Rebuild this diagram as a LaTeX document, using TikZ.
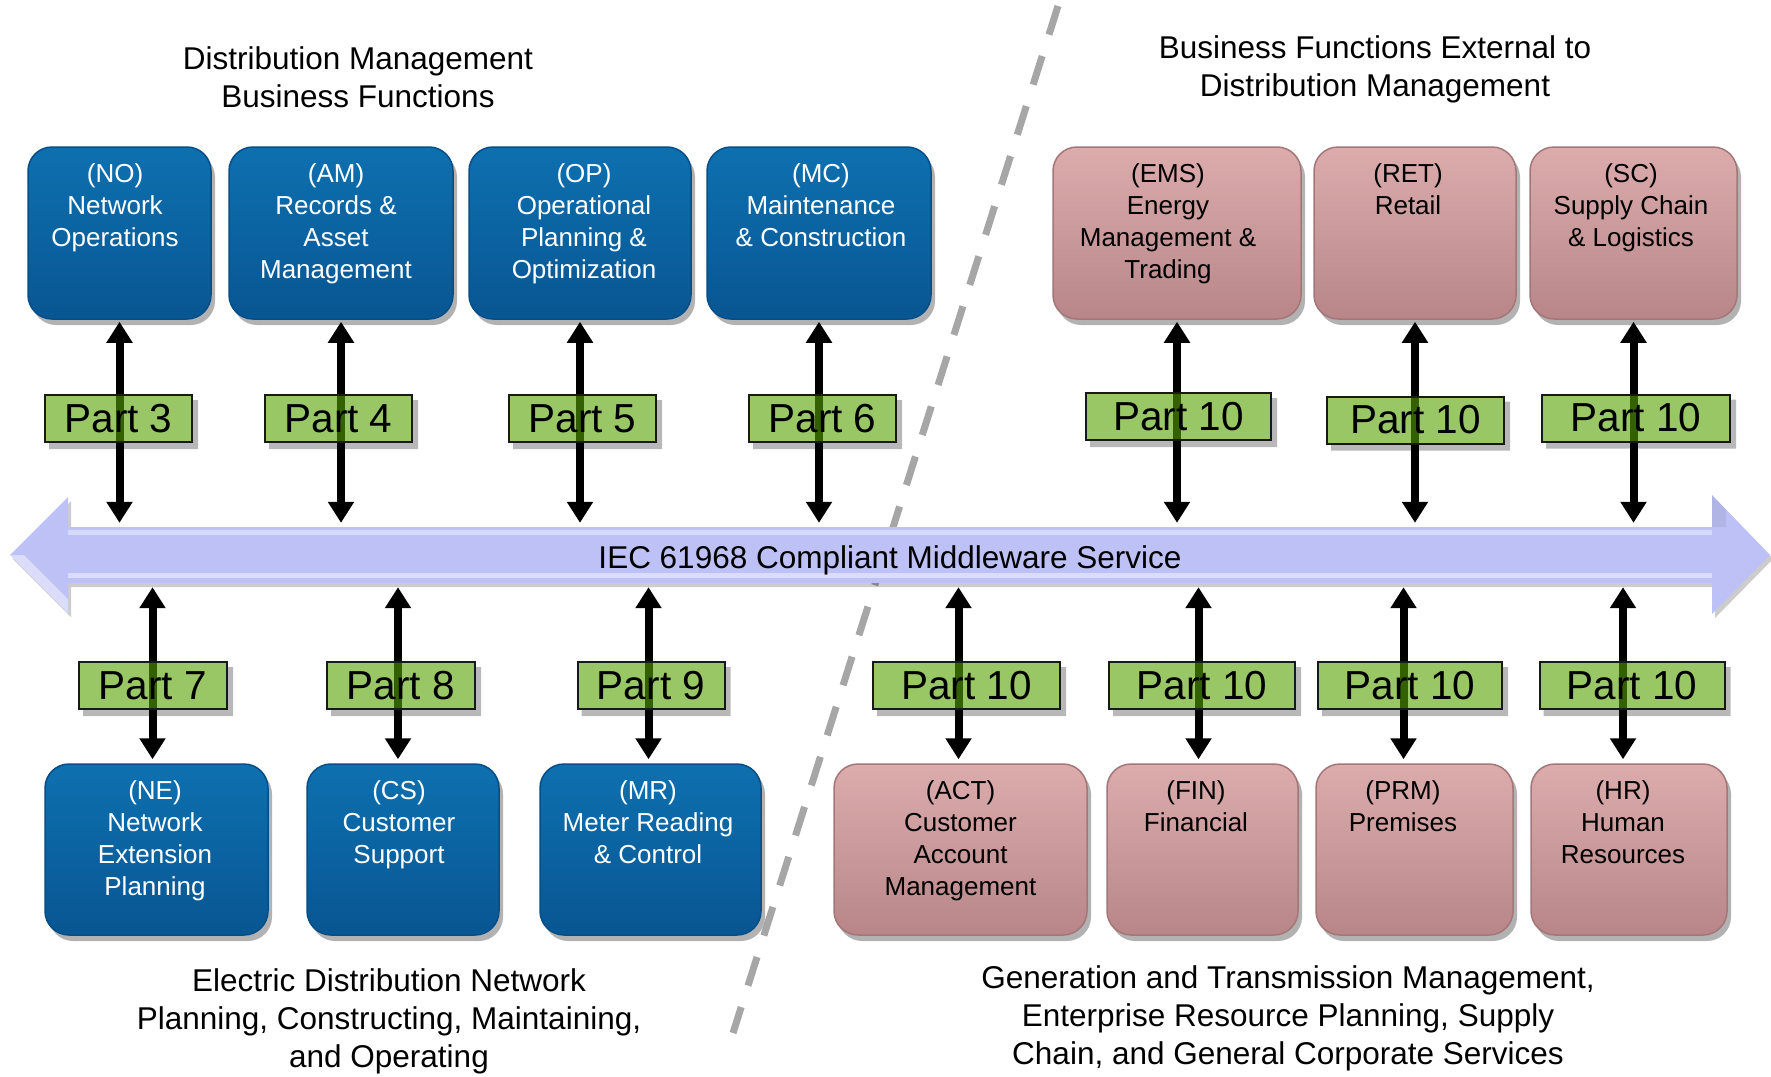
\documentclass[tikz,border=0pt]{standalone}
\usepackage{fontspec}
\setmainfont{Liberation Sans}
\usetikzlibrary{arrows.meta,shadows}
\definecolor{dmtop}{RGB}{14,112,176}
\definecolor{dmbot}{RGB}{8,86,146}
\definecolor{dmedge}{RGB}{6,78,135}
\definecolor{extop}{RGB}{220,172,173}
\definecolor{exbot}{RGB}{184,134,136}
\definecolor{exedge}{RGB}{165,118,120}
\definecolor{partfill}{RGB}{88,163,0}
\definecolor{mwfill}{RGB}{189,193,245}
\definecolor{dashc}{RGB}{166,166,166}
\newcommand{\lblshadow}[1]{\fill[black,opacity=0.28] ([xshift=5pt]#1.south west) -- ([xshift=5pt,yshift=-6pt]#1.south west) -- ([xshift=5pt,yshift=-6pt]#1.south east) -- ([xshift=5pt,yshift=-6pt]#1.north east) -- ([yshift=-6pt]#1.north east) -- (#1.south east) -- cycle;}
\tikzset{
  funcbox/.style={rounded corners=24pt, line width=1.5pt, inner sep=0pt,
     drop shadow={shadow xshift=4pt, shadow yshift=-6pt, opacity=0.3, fill=black}},
  dmbox/.style={funcbox, top color=dmtop, bottom color=dmbot, draw=dmedge},
  extbox/.style={funcbox, top color=extop, bottom color=exbot, draw=exedge},
  boxtext/.style={align=center, inner sep=0pt, font=\fontsize{26}{32}\selectfont, anchor=north},
  dmtext/.style={boxtext, text=white},
  extext/.style={boxtext, text=black},
  partlbl/.style={draw=black!90, line width=2pt, fill=partfill, fill opacity=0.6, text opacity=1,
     inner sep=0pt, minimum height=47pt, font=\fontsize{40.5}{44}\selectfont},
  conn/.style={line width=8pt, {Triangle[width=25pt,length=21pt]}-{Triangle[width=25pt,length=21pt]}},
  hdr/.style={align=center, font=\fontsize{31.5}{38}\selectfont, inner sep=0pt},
}
\begin{document}
\begin{tikzpicture}[x=1pt,y=-1pt]
\useasboundingbox (0,0) rectangle (1771,1076);
\fill[white] (0,0) rectangle (1771,1076);

% headers
\node[hdr] (hdl) at (358,77) {Distribution Management\\Business Functions};
\node[hdr] (hdr) at (1375,69) {Business Functions External to\\Distribution Management};
\node[hdr] (hbl) at (389,1021) {Electric Distribution Network\\Planning, Constructing, Maintaining,\\and Operating};
\node[hdr] (hbr) at (1288,1018) {Generation and Transmission Management,\\Enterprise Resource Planning, Supply\\Chain, and General Corporate Services};

% top boxes
\node[dmbox, minimum width=183pt, minimum height=172pt] (no) at (119.5,233) {};
\node[dmtext] (not) at ([xshift=-4.5pt,yshift=-17pt]no.north) {(NO)\\Network\\Operations};
\node[dmbox, minimum width=224pt, minimum height=172pt] (am) at (341,233) {};
\node[dmtext] (amt) at ([xshift=-5pt,yshift=-17pt]am.north) {(AM)\\Records \&\\Asset\\Management};
\node[dmbox, minimum width=222pt, minimum height=172pt] (op) at (580,233) {};
\node[dmtext] (opt) at ([xshift=4pt,yshift=-17pt]op.north) {(OP)\\Operational\\Planning \&\\Optimization};
\node[dmbox, minimum width=224pt, minimum height=172pt] (mc) at (819,233) {};
\node[dmtext] (mct) at ([xshift=2pt,yshift=-17pt]mc.north) {(MC)\\Maintenance\\\& Construction};
\node[extbox, minimum width=248pt, minimum height=172pt] (ems) at (1177,233) {};
\node[extext] (emst) at ([xshift=-9pt,yshift=-17pt]ems.north) {(EMS)\\Energy\\Management \&\\Trading};
\node[extbox, minimum width=202pt, minimum height=172pt] (ret) at (1415,233) {};
\node[extext] (rett) at ([xshift=-7pt,yshift=-17pt]ret.north) {(RET)\\Retail};
\node[extbox, minimum width=207pt, minimum height=172pt] (sc) at (1633.5,233) {};
\node[extext] (sct) at ([xshift=-2.5pt,yshift=-17pt]sc.north) {(SC)\\Supply Chain\\\& Logistics};

% bottom boxes
\node[dmbox, minimum width=223pt, minimum height=171pt] (ne) at (156.5,849.5) {};
\node[dmtext] (net) at ([xshift=-1.5pt,yshift=-17pt]ne.north) {(NE)\\Network\\Extension\\Planning};
\node[dmbox, minimum width=192pt, minimum height=171pt] (cs) at (403,849.5) {};
\node[dmtext] (cst) at ([xshift=-4pt,yshift=-17pt]cs.north) {(CS)\\Customer\\Support};
\node[dmbox, minimum width=221pt, minimum height=171pt] (mr) at (650.5,849.5) {};
\node[dmtext] (mrt) at ([xshift=-2.5pt,yshift=-17pt]mr.north) {(MR)\\Meter Reading\\\& Control};
\node[extbox, minimum width=253pt, minimum height=171pt] (act) at (960.5,849.5) {};
\node[extext] (actt) at ([yshift=-17pt]act.north) {(ACT)\\Customer\\Account\\Management};
\node[extbox, minimum width=191pt, minimum height=171pt] (fin) at (1202.5,849.5) {};
\node[extext] (fint) at ([xshift=-6.5pt,yshift=-17pt]fin.north) {(FIN)\\Financial};
\node[extbox, minimum width=197pt, minimum height=171pt] (prm) at (1414.5,849.5) {};
\node[extext] (prmt) at ([xshift=-11.5pt,yshift=-17pt]prm.north) {(PRM)\\Premises};
\node[extbox, minimum width=196pt, minimum height=171pt] (hr) at (1629,849.5) {};
\node[extext] (hrt) at ([xshift=-6pt,yshift=-17pt]hr.north) {(HR)\\Human\\Resources};

% divider
\draw[dashc, line width=7pt, dash pattern=on 30pt off 22.5pt] (1058,6) -- (733,1033);

% middleware arrow
\fill[mwfill, drop shadow={shadow xshift=3pt,shadow yshift=-4pt,opacity=0.2,fill=black}]
  (10,555) -- (68,497) -- (68,527) -- (1712,527) -- (1712,495) -- (1770,555)
  -- (1712,614) -- (1712,583) -- (68,583) -- (68,613) -- cycle;
\fill[white, opacity=0.45] (10,555) -- (24,555) -- (68,599) -- (68,613) -- cycle;
\fill[black, opacity=0.06] (1712,495) -- (1726,510) -- (1726,527) -- (1712,527) -- cycle;
\draw[white, opacity=0.4, line width=5pt] (68,532) -- (1712,532);
\draw[white, opacity=0.45, line width=5pt] (68,575) -- (1712,575);
\node[minimum width=1644pt, minimum height=56pt, inner sep=0pt] (mw) at (890,555) {};
\node[font=\fontsize{31.5}{36}\selectfont, inner sep=0pt] (mwt) at (890,560) {IEC 61968 Compliant Middleware Service};

% connectors, top
\foreach \b in {no,am,op,mc,ems,ret,sc}
  \draw[conn, shorten <=2pt, shorten >=4pt] (\b.south) -- (\b.south |- mw.north);
% connectors, bottom
\draw[conn, shorten <=4pt, shorten >=4pt] ([xshift=-4pt]ne.north |- mw.south) -- ([xshift=-4pt]ne.north);
\draw[conn, shorten <=4pt, shorten >=4pt] ([xshift=-5pt]cs.north |- mw.south) -- ([xshift=-5pt]cs.north);
\draw[conn, shorten <=4pt, shorten >=4pt] ([xshift=-2pt]mr.north |- mw.south) -- ([xshift=-2pt]mr.north);
\draw[conn, shorten <=4pt, shorten >=4pt] ([xshift=-2pt]act.north |- mw.south) -- ([xshift=-2pt]act.north);
\draw[conn, shorten <=4pt, shorten >=4pt] ([xshift=-4pt]fin.north |- mw.south) -- ([xshift=-4pt]fin.north);
\draw[conn, shorten <=4pt, shorten >=4pt] ([xshift=-11pt]prm.north |- mw.south) -- ([xshift=-11pt]prm.north);
\draw[conn, shorten <=4pt, shorten >=4pt] ([xshift=-6pt]hr.north |- mw.south) -- ([xshift=-6pt]hr.north);

% part labels, top
\node[partlbl, minimum width=147pt] (p3) at (118.5,418.5) {Part 3};
\node[partlbl, minimum width=147pt] (p4) at (338.5,418.5) {Part 4};
\node[partlbl, minimum width=147pt] (p5) at (582.5,418.5) {Part 5};
\node[partlbl, minimum width=147pt] (p6) at (822.5,418.5) {Part 6};
\node[partlbl, minimum width=185pt] (p10a) at (1178.5,416.5) {Part 10};
\node[partlbl, minimum width=177pt] (p10b) at (1415.5,420) {Part 10};
\node[partlbl, minimum width=188pt] (p10c) at (1636,418) {Part 10};
% part labels, bottom
\node[partlbl, minimum width=148pt] (p7) at (153,685.5) {Part 7};
\node[partlbl, minimum width=148pt] (p8) at (401,685.5) {Part 8};
\node[partlbl, minimum width=147pt] (p9) at (651,685.5) {Part 9};
\node[partlbl, minimum width=187pt] (p10d) at (966.5,685.5) {Part 10};
\node[partlbl, minimum width=186pt] (p10e) at (1202,685.5) {Part 10};
\node[partlbl, minimum width=184pt] (p10f) at (1410,685.5) {Part 10};
\node[partlbl, minimum width=185pt] (p10g) at (1632,685.5) {Part 10};
\foreach \p in {p3,p4,p5,p6,p10a,p10b,p10c,p7,p8,p9,p10d,p10e,p10f,p10g} {\lblshadow{\p}}
\end{tikzpicture}
\end{document}
